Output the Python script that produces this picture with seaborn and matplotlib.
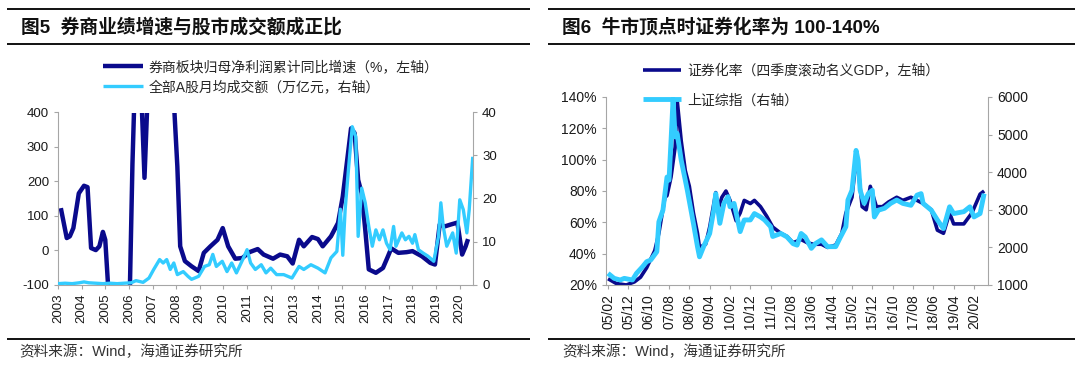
import matplotlib
matplotlib.use('Agg')
import matplotlib.pyplot as plt
from matplotlib.lines import Line2D
from matplotlib.ticker import FuncFormatter
import seaborn as sns

# 图5: 券商板块归母净利润累计同比增速(%, 左轴) / 全部A股月均成交额(万亿元, 右轴)
profit_year = [2003.12, 2003.37, 2003.5, 2003.65, 2003.88, 2004.1, 2004.25, 2004.4, 2004.6, 2004.75,
               2004.9, 2005.0, 2005.25, 2006.0, 2006.15, 2006.3, 2006.5, 2006.66, 2006.82, 2007.0,
               2007.85, 2008.05, 2008.17, 2008.37, 2008.65, 2008.95, 2009.17, 2009.45, 2009.75, 2009.97,
               2010.2, 2010.5, 2010.8, 2011.1, 2011.45, 2011.7, 2012.1, 2012.4, 2012.7, 2012.93,
               2013.2, 2013.4, 2013.75, 2014.0, 2014.2, 2014.55, 2014.85, 2015.05, 2015.4, 2015.55,
               2015.7, 2015.85, 2016.0, 2016.15, 2016.45, 2016.75, 2016.95, 2017.1, 2017.4, 2017.75,
               2018.0, 2018.4, 2018.75, 2018.95, 2019.15, 2019.37, 2019.6, 2019.9, 2020.1, 2020.25,
               2020.35]
profit_growth = [122, 35, 40, 64, 165, 187, 183, 6, 0, 11,
                 53, 30, -250, -250, 250, 600, 500, 210, 500, 700,
                 500, 243, 11, -32, -47, -61, -8, 11, 30, 64,
                 11, -25, -23, -6, 3, -13, -25, -13, -18, -39,
                 30, 11, 38, 32, 11, 40, 79, 156, 354, 340,
                 204, 165, 60, -56, -66, -52, -20, 5, -8, -6,
                 -3, -18, -37, -42, 74, 69, 74, 80, -13, 11,
                 32]

turnover_year = [2003.0, 2003.3, 2003.6, 2003.9, 2004.1, 2004.3, 2004.6, 2004.9, 2005.2, 2005.5,
                 2005.8, 2006.1, 2006.3, 2006.6, 2006.85, 2007.05, 2007.3, 2007.45, 2007.6, 2007.75,
                 2007.9, 2008.05, 2008.3, 2008.5, 2008.65, 2008.95, 2009.2, 2009.4, 2009.55, 2009.7,
                 2009.95, 2010.15, 2010.35, 2010.55, 2010.85, 2011.0, 2011.15, 2011.35, 2011.6, 2011.8,
                 2012.0, 2012.25, 2012.55, 2012.9, 2013.2, 2013.4, 2013.7, 2014.0, 2014.3, 2014.55,
                 2014.8, 2014.95, 2015.05, 2015.15, 2015.3, 2015.45, 2015.6, 2015.7, 2015.85, 2016.0,
                 2016.15, 2016.3, 2016.45, 2016.6, 2016.75, 2016.9, 2017.05, 2017.2, 2017.3, 2017.55,
                 2017.7, 2017.85, 2018.0, 2018.1, 2018.25, 2018.45, 2018.65, 2018.9, 2019.1, 2019.2,
                 2019.3, 2019.45, 2019.7, 2019.85, 2020.0, 2020.15, 2020.3, 2020.4, 2020.55]
turnover = [0.2, 0.3, 0.2, 0.4, 0.6, 0.4, 0.3, 0.2, 0.3, 0.2,
            0.3, 0.4, 0.9, 0.5, 1.5, 3.5, 5.8, 5.0, 5.8, 3.5,
            5.0, 2.3, 3.0, 1.9, 1.2, 1.9, 4.2, 4.6, 7.0, 4.2,
            5.4, 3.0, 5.0, 2.7, 6.2, 8.1, 5.0, 3.5, 4.6, 2.7,
            3.8, 2.3, 2.3, 1.5, 4.2, 3.5, 4.6, 3.8, 2.7, 6.2,
            7.7, 17.5, 6.8, 17.4, 27.4, 36.7, 34.4, 11.2, 22.4, 19.0,
            13.5, 8.9, 12.7, 10.4, 12.7, 9.6, 8.1, 13.5, 8.9, 12.0,
            10.4, 11.2, 9.6, 11.6, 8.1, 7.3, 6.6, 5.4, 11.2, 19.0,
            13.5, 8.9, 12.0, 7.3, 19.7, 17.4, 12.0, 17.4, 29.7]
year_labels = [str(y) for y in range(2003, 2021)]

# 图6: 证券化率(%, 左轴) / 上证综指(右轴), x = 自2005年2月起的月数
ratio_month = [0, 4, 9, 13, 16, 19, 23, 25, 28, 29, 31, 33, 34, 35, 36, 38, 40, 42, 44, 45,
               48, 50, 53, 54, 56, 58, 60, 63, 65, 67, 70, 72, 75, 78, 81, 85, 88, 91, 95, 98,
               101, 105, 108, 112, 115, 117, 120, 122, 123, 125, 127, 129, 132, 135, 138, 142, 145, 149, 152, 155,
               159, 162, 165, 168, 170, 175, 179, 183, 185]
ratio_pct = [24, 21, 20, 22, 25, 31, 42, 53, 76, 77, 89, 108, 138, 125, 112, 93, 83, 66, 53, 44,
             46, 57, 79, 68, 76, 80, 74, 61, 66, 74, 72, 74, 70, 64, 57, 53, 51, 47, 49, 47,
             46, 46, 44, 45.5, 53, 66, 76, 100, 95, 70, 68, 83, 70, 70, 73, 76, 74, 76, 74, 72,
             68, 55, 53, 66, 59, 59, 66, 78, 80]

index_month = [0, 3, 6, 8, 12, 14, 17, 19, 21, 24, 25, 27, 29, 30, 31, 32, 33, 34, 36, 38,
               39, 42, 44, 45, 47, 50, 52, 53, 55, 57, 59, 60, 62, 65, 67, 70, 72, 75, 77, 80,
               81, 85, 88, 91, 93, 95, 97, 100, 102, 105, 108, 112, 114, 117, 118, 120, 122, 123, 124, 126,
               128, 130, 131, 133, 136, 139, 142, 145, 149, 152, 154, 155, 159, 162, 165, 168, 170, 175, 178, 180,
               183, 185]
index_close = [1310, 1177, 1133, 1177, 1133, 1310, 1487, 1620, 1664, 1885, 2680, 2990, 3870, 3790, 4850, 5950, 4940, 5030, 4320, 3790,
               3520, 2640, 2020, 1750, 2020, 2370, 2990, 3430, 2640, 3170, 3350, 3080, 3170, 2420, 2730, 2730, 2900, 2810, 2730, 2550,
               2290, 2370, 2280, 2100, 2060, 2370, 2280, 1975, 2100, 2200, 2020, 2020, 2240, 2550, 3260, 3520, 4580, 4320, 3520, 3170,
               3430, 3520, 2810, 2990, 3040, 3170, 3260, 3170, 3120, 3390, 3430, 3170, 2990, 2730, 2500, 3080, 2900, 2950, 3080, 2810,
               2900, 3430]
month_labels = ['05/02', '05/12', '06/10', '07/08', '08/06', '09/04', '10/02', '10/12', '11/10', '12/08',
                '13/06', '14/04', '15/02', '15/12', '16/10', '17/08', '18/06', '19/04', '20/02']

DARK = '#0a0a8c'
LIGHT = '#33ccff'
SPINE = '#a6a6a6'
W, H = 1080, 370

sns.set_style('ticks')
plt.rcParams['font.family'] = ['Liberation Sans', 'Noto Sans CJK SC']
plt.rcParams['axes.unicode_minus'] = False
plt.rcParams['lines.solid_joinstyle'] = 'round'
plt.rcParams['lines.solid_capstyle'] = 'butt'


def style(ax, sides, size=9.5):
    for s in ['top', 'right', 'left', 'bottom']:
        ax.spines[s].set_visible(s in sides)
        ax.spines[s].set_color(SPINE)
    ax.tick_params(colors=SPINE, labelcolor='#1a1a1a', labelsize=size, length=3, width=0.8)


def px(x, y):
    return x / W, 1 - y / H


fig = plt.figure(figsize=(W / 100, H / 100), dpi=100)

# ---- left panel
ax1 = fig.add_axes([58 / W, 85.5 / H, 415 / W, 172 / H])
ax1b = ax1.twinx()
sns.lineplot(x=profit_year, y=profit_growth, ax=ax1, color=DARK, linewidth=3.2, estimator=None, sort=False)
sns.lineplot(x=turnover_year, y=turnover, ax=ax1b, color=LIGHT, linewidth=2.4, estimator=None, sort=False)
ax1.set_xlim(2003, 2020.56)
ax1.set_ylim(-100, 400)
ax1.set_yticks(range(-100, 401, 100))
ax1b.set_ylim(0, 40)
ax1b.set_yticks(range(0, 41, 10))
ax1.set_xticks(range(2003, 2021))
ax1.set_xticklabels(year_labels, rotation=90)
style(ax1, ['left', 'bottom'])
style(ax1b, ['right'])
for a in (ax1, ax1b):
    a.set_xlabel('')
    a.set_ylabel('')

fig.legend([ax1.lines[0], ax1b.lines[0]],
           ['券商板块归母净利润累计同比增速（%，左轴）', '全部A股月均成交额（万亿元，右轴）'],
           loc='upper left', bbox_to_anchor=px(103, 60), bbox_transform=fig.transFigure,
           frameon=False, fontsize=10, borderpad=0, borderaxespad=0,
           handlelength=2.9, handletextpad=0.4, labelspacing=0.45)

# ---- right panel
ax2 = fig.add_axes([606 / W, 85 / H, 382 / W, 188 / H])
ax2b = ax2.twinx()
sns.lineplot(x=ratio_month, y=ratio_pct, ax=ax2, color=DARK, linewidth=2.6, estimator=None, sort=False)
sns.lineplot(x=index_month, y=index_close, ax=ax2b, color=LIGHT, linewidth=3.5, estimator=None, sort=False)
ax2.set_xlim(-1, 186.9)
ax2.set_ylim(20, 140)
ax2.set_yticks(range(20, 141, 20))
ax2.yaxis.set_major_formatter(FuncFormatter(lambda v, _: f'{v:.0f}%'))
ax2b.set_ylim(1000, 6000)
ax2b.set_yticks(range(1000, 6001, 1000))
ax2.set_xticks(range(0, 181, 10))
ax2.set_xticklabels(month_labels, rotation=90)
style(ax2, ['left', 'bottom'], 10)
style(ax2b, ['right'], 10)
for a in (ax2, ax2b):
    a.set_xlabel('')
    a.set_ylabel('')

fig.legend([ax2.lines[0], ax2b.lines[0]],
           ['证券化率（四季度滚动名义GDP，左轴）', '上证综指（右轴）'],
           loc='upper left', bbox_to_anchor=px(643, 64), bbox_transform=fig.transFigure,
           frameon=False, fontsize=10, borderpad=0, borderaxespad=0,
           handlelength=2.7, handletextpad=0.5, labelspacing=1.1)

# ---- headers, rules and sources
for x0, x1 in [(7, 530), (548, 1075)]:
    for y in (8.5, 44, 338.5):
        xs, ys = zip(px(x0, y), px(x1, y))
        fig.add_artist(Line2D(xs, ys, transform=fig.transFigure, color='#111111', lw=1.4))

fig.text(*px(21, 27), '图5  券商业绩增速与股市成交额成正比', fontsize=13.5, fontweight='bold',
         va='center', ha='left', color='#111111')
fig.text(*px(562, 27), '图6  牛市顶点时证券化率为 100-140%', fontsize=13.5, fontweight='bold',
         va='center', ha='left', color='#111111')
fig.text(*px(19, 352), '资料来源：Wind，海通证券研究所', fontsize=10.5, va='center', ha='left', color='#333333')
fig.text(*px(562, 352), '资料来源：Wind，海通证券研究所', fontsize=10.5, va='center', ha='left', color='#333333')

fig.savefig('out.png', dpi=100)
